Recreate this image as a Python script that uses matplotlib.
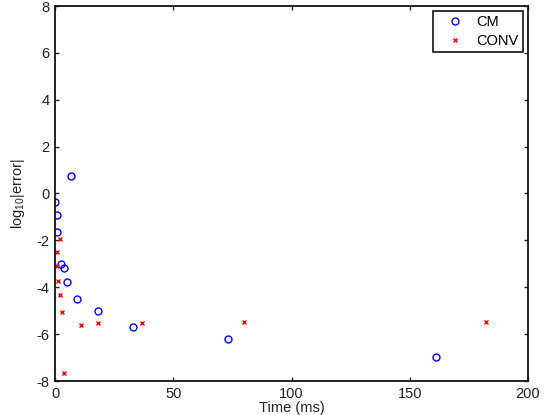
import numpy as np
import matplotlib
matplotlib.use("Agg")
import matplotlib.pyplot as plt

plt.rcParams["font.family"] = ["Liberation Sans", "DejaVu Sans"]
plt.rcParams["mathtext.fontset"] = "custom"
plt.rcParams["mathtext.rm"] = "Liberation Sans"
plt.rcParams["mathtext.it"] = "Liberation Sans"
plt.rcParams["axes.unicode_minus"] = False

# ---------- Data ----------
cm_time = [0.0, 1.0, 1.0, 2.4, 3.9, 4.9, 6.8, 9.2, 18.0, 33.1, 73.0, 161.0]
cm_err = [-0.36, -0.92, -1.63, -3.01, -3.17, -3.78, 0.75, -4.51, -5.03, -5.68, -6.22, -6.96]

conv_time = [2.1, 1.0, 0.7, 1.1, 2.1, 3.1, 11.0, 18.0, 36.9, 80.1, 182.1, 3.9]
conv_err = [-1.94, -2.51, -3.09, -3.72, -4.34, -5.04, -5.62, -5.52, -5.51, -5.49, -5.49, -7.67]

x_ticks = [0, 50, 100, 150, 200]
y_ticks = [-8, -6, -4, -2, 0, 2, 4, 6, 8]

# ---------- Plot ----------
fig = plt.figure(figsize=(5.52, 4.15), dpi=100)
ax = fig.add_axes([55 / 552, 1 - 381 / 415, 473 / 552, 375 / 415])

ax.plot(cm_time, cm_err, linestyle="none", marker="o", markersize=5,
        markerfacecolor="none", markeredgecolor="#0000ff", markeredgewidth=1.0,
        label="CM")
ax.plot(conv_time, conv_err, linestyle="none", marker="x", markersize=3.2,
        markeredgecolor="#ff0000", markeredgewidth=1.0, label="CONV")

ax.set_xlim(0, 200)
ax.set_ylim(-8, 8)
ax.set_xticks(x_ticks)
ax.set_yticks(y_ticks)
ax.tick_params(direction="in", length=3, width=1.0, top=True, right=True,
               labelsize=10.5, colors="#222222", pad=4)
for s in ax.spines.values():
    s.set_linewidth(1.3)
    s.set_color("#111111")

# label kept just inside the bottom edge
ax.set_xlabel("Time (ms)", fontsize=10.5, color="#222222", labelpad=0.5)
ax.set_ylabel("log$_{10}$|error|", fontsize=10.5, color="#222222", labelpad=7)

leg = ax.legend(loc="upper right", fontsize=10.5, fancybox=False, framealpha=1,
                edgecolor="#111111", borderaxespad=0.35, handlelength=2.4,
                handletextpad=0.25, borderpad=0.3, labelspacing=0.3)
leg.get_frame().set_linewidth(1.2)

fig.savefig("out.png", dpi=100)
